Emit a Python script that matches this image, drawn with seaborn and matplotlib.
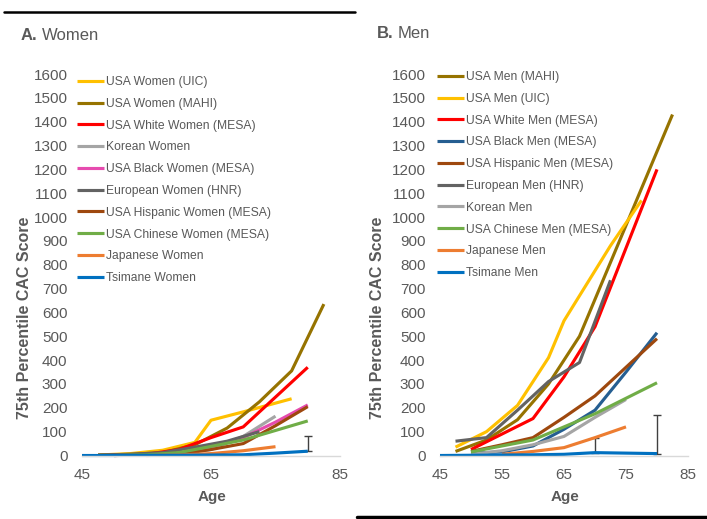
import pandas as pd
import seaborn as sns
import matplotlib.pyplot as plt
from matplotlib.lines import Line2D

# ---- Women (panel A) ----
women_uic_age = [47.5, 52.5, 57.5, 62.5, 65, 70, 77.5]
women_uic_cac = [2, 8, 22, 55, 148, 183, 238]
women_mahi_age = [47.5, 52.5, 57.5, 62.5, 67.5, 72.5, 77.5, 82.5]
women_mahi_cac = [2, 5, 12, 45, 115, 225, 355, 635]
women_white_age = [50, 55, 60, 65, 70, 75, 80]
women_white_cac = [2, 5, 25, 75, 120, 245, 370]
women_korean_age = [50, 55, 60, 65, 70, 75]
women_korean_cac = [0, 2, 8, 25, 80, 165]
women_black_age = [50, 55, 60, 65, 70, 75, 80]
women_black_cac = [0, 2, 10, 35, 75, 140, 212]
women_hnr_age = [47.5, 52.5, 57.5, 62.5, 67.5, 72.5]
women_hnr_cac = [2, 5, 12, 35, 60, 100]
women_hisp_age = [50, 55, 60, 65, 70, 75, 80]
women_hisp_cac = [0, 2, 5, 25, 50, 125, 205]
women_chinese_age = [50, 55, 60, 65, 70, 75, 80]
women_chinese_cac = [0, 3, 12, 38, 65, 105, 145]
women_japan_age = [55, 60, 65, 70, 75]
women_japan_cac = [0, 2, 8, 20, 37]
women_tsimane_age = [45, 50, 55, 60, 65, 70, 75, 80]
women_tsimane_cac = [0, 0, 1, 1, 2, 3, 10, 18]
women_err_age = [80]
women_err_cac = [18]
women_err_up = [65]

# ---- Men (panel B) ----
men_mahi_age = [47.5, 52.5, 57.5, 62.5, 67.5, 72.5, 77.5, 82.5]
men_mahi_cac = [17, 65, 150, 300, 500, 810, 1120, 1430]
men_uic_age = [47.5, 52.5, 57.5, 62.5, 65, 72.5, 77.5]
men_uic_cac = [35, 100, 210, 410, 565, 880, 1070]
men_white_age = [50, 55, 60, 65, 70, 75, 80]
men_white_cac = [25, 90, 155, 330, 540, 870, 1200]
men_black_age = [50, 55, 60, 65, 70, 75, 80]
men_black_cac = [10, 15, 40, 110, 190, 350, 515]
men_hisp_age = [50, 55, 60, 65, 70, 75, 80]
men_hisp_cac = [17, 45, 75, 160, 250, 370, 490]
men_hnr_age = [47.5, 52.5, 57.5, 62.5, 67.5, 72.5]
men_hnr_cac = [60, 75, 190, 310, 390, 735]
men_korean_age = [50, 55, 60, 65, 70, 75]
men_korean_cac = [5, 20, 45, 80, 160, 235]
men_chinese_age = [50, 55, 60, 65, 70, 75, 80]
men_chinese_cac = [15, 40, 65, 120, 175, 240, 305]
men_japan_age = [55, 60, 65, 70, 75]
men_japan_cac = [5, 17, 33, 75, 120]
men_tsimane_age = [45, 50, 55, 60, 65, 70, 75, 80]
men_tsimane_cac = [0, 1, 2, 3, 5, 12, 10, 8]
men_err_age = [70, 80]
men_err_cac = [12, 8]
men_err_up = [63, 160]

women_series = [
    ("USA Women (UIC)", women_uic_age, women_uic_cac, "#FFC000"),
    ("USA Women (MAHI)", women_mahi_age, women_mahi_cac, "#967300"),
    ("USA White Women (MESA)", women_white_age, women_white_cac, "#FF0000"),
    ("Korean Women", women_korean_age, women_korean_cac, "#A5A5A5"),
    ("USA Black Women (MESA)", women_black_age, women_black_cac, "#E64BAF"),
    ("European Women (HNR)", women_hnr_age, women_hnr_cac, "#636363"),
    ("USA Hispanic Women (MESA)", women_hisp_age, women_hisp_cac, "#9E480E"),
    ("USA Chinese Women (MESA)", women_chinese_age, women_chinese_cac, "#70AD47"),
    ("Japanese Women", women_japan_age, women_japan_cac, "#ED7D31"),
    ("Tsimane Women", women_tsimane_age, women_tsimane_cac, "#0070C0"),
]
men_series = [
    ("USA Men (MAHI)", men_mahi_age, men_mahi_cac, "#967300"),
    ("USA Men (UIC)", men_uic_age, men_uic_cac, "#FFC000"),
    ("USA White Men (MESA)", men_white_age, men_white_cac, "#FF0000"),
    ("USA Black Men (MESA)", men_black_age, men_black_cac, "#255E91"),
    ("USA Hispanic Men (MESA)", men_hisp_age, men_hisp_cac, "#9E480E"),
    ("European Men (HNR)", men_hnr_age, men_hnr_cac, "#636363"),
    ("Korean Men", men_korean_age, men_korean_cac, "#A5A5A5"),
    ("USA Chinese Men (MESA)", men_chinese_age, men_chinese_cac, "#70AD47"),
    ("Japanese Men", men_japan_age, men_japan_cac, "#ED7D31"),
    ("Tsimane Men", men_tsimane_age, men_tsimane_cac, "#0070C0"),
]

GREY = "#595959"
LW = 2.25


def to_frame(series):
    rows = []
    for name, ages, vals, _ in series:
        for a, v in zip(ages, vals):
            rows.append({"group": name, "age": a, "cac": v})
    return pd.DataFrame(rows)


def draw_panel(fig, rect, series, xticks, err, legend_xy):
    ax = fig.add_axes(rect)
    data = to_frame(series)
    order = [s[0] for s in series]
    palette = {s[0]: s[3] for s in series}
    sns.lineplot(data=data, x="age", y="cac", hue="group", hue_order=order,
                 palette=palette, estimator=None, sort=False, linewidth=LW,
                 legend=False, ax=ax)
    for line in ax.get_lines():
        line.set_solid_capstyle("butt")
        line.set_clip_on(False)

    ex, ey, eup = err
    ax.errorbar(ex, ey, yerr=[[0] * len(eup), eup], fmt="none",
                ecolor="#404040", elinewidth=1, capsize=3, capthick=1, zorder=1)

    ax.set_xlim(45, 85)
    ax.set_ylim(0, 1600)
    ax.set_xticks(xticks)
    ax.set_yticks(range(0, 1700, 100))
    ax.tick_params(length=0, labelsize=11, colors=GREY)
    ax.tick_params(axis="y", pad=10.5)
    ax.tick_params(axis="x", pad=9)
    for side in ["top", "right", "left"]:
        ax.spines[side].set_visible(False)
    ax.spines["bottom"].set_color("#D9D9D9")
    ax.spines["bottom"].set_linewidth(1)
    ax.grid(False)

    ax.set_xlabel("Age", fontsize=11, fontweight="bold", color=GREY)
    ax.set_ylabel("75th Percentile CAC Score", fontsize=11.5, fontweight="bold", color=GREY)

    handles = [Line2D([], [], color=s[3], lw=LW, solid_capstyle="butt") for s in series]
    ax.legend(handles, order, loc="upper left", bbox_to_anchor=legend_xy,
              bbox_transform=fig.transFigure, frameon=False, fontsize=8.7,
              labelcolor=GREY, handlelength=2.2, handletextpad=0.18,
              labelspacing=0.81, borderpad=0, borderaxespad=0)
    return ax


sns.set_style("white")
plt.rcParams["font.family"] = ["Liberation Sans", "DejaVu Sans"]

W, H = 707, 519
fig = plt.figure(figsize=(W / 100, H / 100), dpi=100)


def px_rect(x0, x1, ytop, ybot):
    return [x0 / W, 1 - ybot / H, (x1 - x0) / W, (ybot - ytop) / H]


ax_a = draw_panel(fig, px_rect(82, 340, 74, 455.5), women_series, [45, 65, 85],
                  (women_err_age, women_err_cac, women_err_up), (77 / W, 1 - 76 / H))
ax_b = draw_panel(fig, px_rect(440, 688, 74, 455.5), men_series, [45, 55, 65, 75, 85],
                  (men_err_age, men_err_cac, men_err_up), (437 / W, 1 - 71 / H))

ax_a.yaxis.set_label_coords(32 / W, 1 - 318 / H, transform=fig.transFigure)
ax_b.yaxis.set_label_coords(385 / W, 1 - 318 / H, transform=fig.transFigure)
ax_a.xaxis.set_label_coords(212 / W, 1 - 490 / H, transform=fig.transFigure)
ax_b.xaxis.set_label_coords(565 / W, 1 - 490 / H, transform=fig.transFigure)

# panel titles
fig.text(21 / W, 1 - 35 / H, "A.", fontsize=12, fontweight="bold", color=GREY, va="center")
fig.text(42 / W, 1 - 35 / H, "Women", fontsize=12, color=GREY, va="center")
fig.text(377 / W, 1 - 33 / H, "B.", fontsize=12, fontweight="bold", color=GREY, va="center")
fig.text(398 / W, 1 - 33 / H, "Men", fontsize=12, color=GREY, va="center")

# rules at top left and bottom right
fig.add_artist(Line2D([4 / W, 355 / W], [1 - 12 / H] * 2, color="black", lw=1.8))
fig.add_artist(Line2D([357 / W, 1.0], [1 - 517 / H] * 2, color="black", lw=2.5))

fig.savefig("out.png", dpi=100)
